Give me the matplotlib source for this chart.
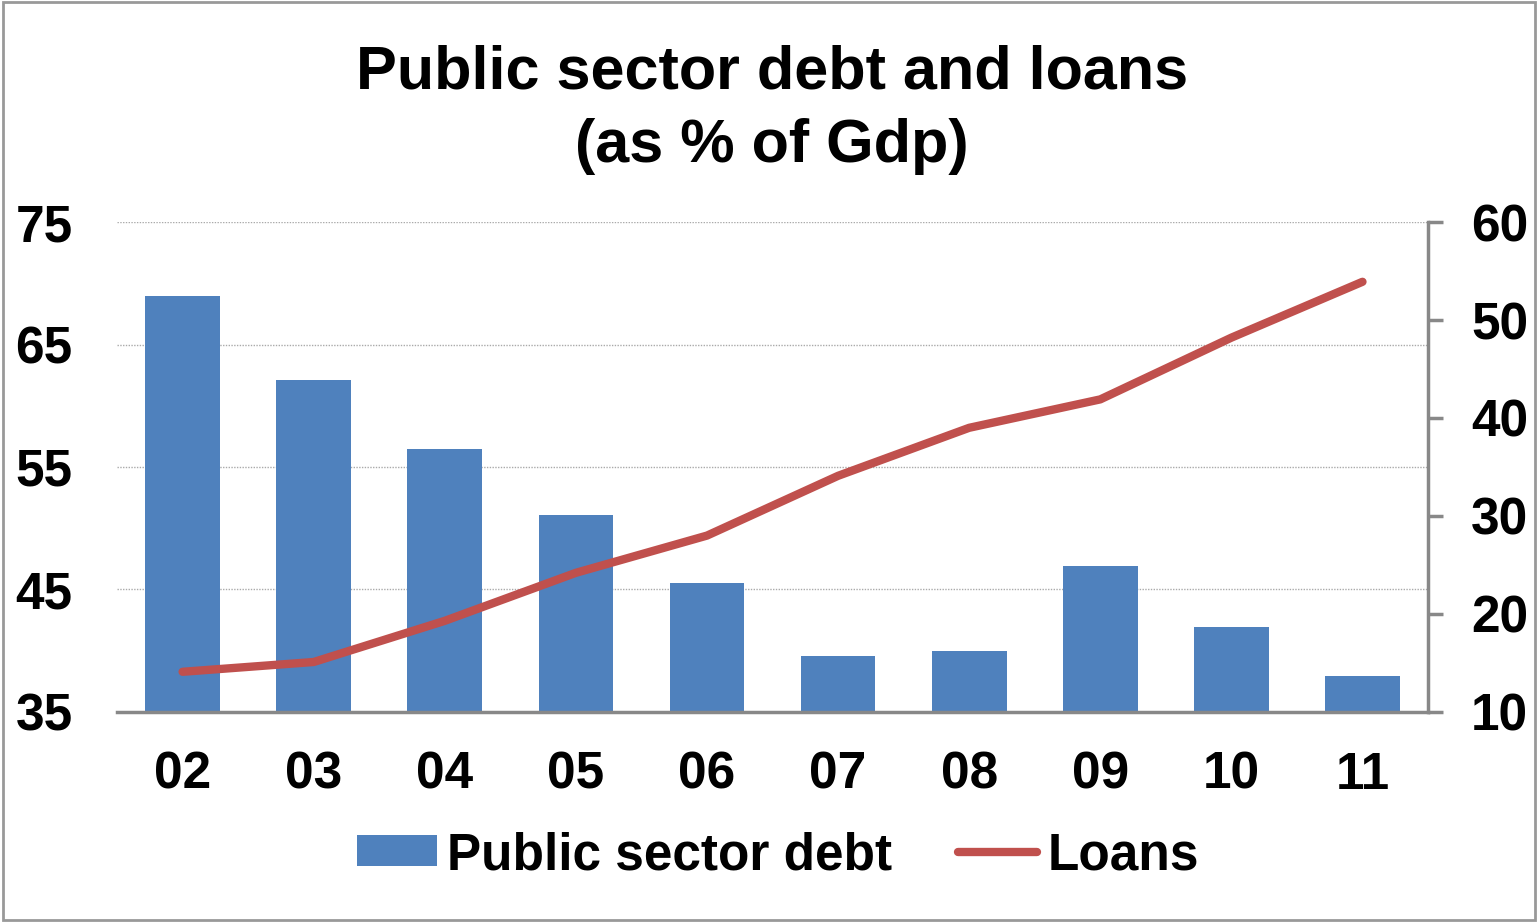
import matplotlib
matplotlib.use("Agg")
import matplotlib.pyplot as plt
from matplotlib.patches import Rectangle, Patch
from matplotlib.lines import Line2D

plt.rcParams['font.family'] = ['Liberation Sans', 'DejaVu Sans']
plt.rcParams['font.weight'] = 'bold'

years = ["02", "03", "04", "05", "06", "07", "08", "09", "10", "11"]
debt = [69.0, 62.1, 56.5, 51.1, 45.5, 39.6, 40.0, 46.9, 41.9, 37.9]
loans = [14.1, 15.1, 19.3, 24.2, 28.0, 34.1, 39.0, 41.9, 48.2, 53.9]
left_ticks = [35, 45, 55, 65, 75]
right_ticks = [10, 20, 30, 40, 50, 60]

bar_color = "#4F81BD"
line_color = "#C0504D"
axis_gray = "#888888"
FS = 37

fig = plt.figure(figsize=(15.38, 9.22), dpi=100)
fig.patches.append(Rectangle((0.002, 0.002), 0.996, 0.996, transform=fig.transFigure,
                             fill=False, edgecolor="#999999", linewidth=2))

ax = fig.add_axes([0.0761, 0.2278, 0.8524, 0.5314])
x = list(range(len(years)))
ax.bar(x, debt, width=0.57, color=bar_color, zorder=2)
ax.set_ylim(35, 75)
ax.set_xlim(-0.5, len(years) - 0.5)
ax.set_yticks(left_ticks)
ax.set_yticklabels([str(t) for t in left_ticks], fontsize=FS, fontweight='bold')
ax.tick_params(axis='y', length=0, pad=32)
ax.set_xticks(x)
ax.set_xticklabels(years, fontsize=FS, fontweight='bold')
ax.tick_params(axis='x', length=0, pad=28)
ax.grid(axis='y', linestyle=(0, (1, 1)), color="#AAAAAA", linewidth=1, zorder=0)
for s in ['left', 'top', 'right']:
    ax.spines[s].set_visible(False)
ax.spines['bottom'].set_color(axis_gray)
ax.spines['bottom'].set_linewidth(2.5)
ax.spines['bottom'].set_zorder(3)

ax2 = ax.twinx()
ax2.plot(x, loans, color=line_color, linewidth=6, solid_capstyle='round', zorder=3)
ax2.set_ylim(10, 60)
ax2.set_yticks(right_ticks)
ax2.set_yticklabels([str(t) for t in right_ticks], fontsize=FS, fontweight='bold')
ax2.tick_params(axis='y', length=11, width=2.5, color=axis_gray, pad=20, direction='out')
for s in ['left', 'top', 'bottom']:
    ax2.spines[s].set_visible(False)
ax2.spines['right'].set_color(axis_gray)
ax2.spines['right'].set_linewidth(2.5)

fig.text(0.502, 0.881, "Public sector debt and loans\n(as % of Gdp)", ha='center', va='center',
         fontsize=44, fontweight='bold', linespacing=1.38)

handles = [Patch(facecolor=bar_color, edgecolor='none'),
           Line2D([0], [0], color=line_color, linewidth=6, solid_capstyle='round')]
fig.legend(handles, ["Public sector debt", "Loans"], loc='center', bbox_to_anchor=(0.506, 0.072),
           ncol=2, frameon=False, prop={'size': FS, 'weight': 'bold'},
           handlelength=1.55, handleheight=0.55, handletextpad=0.2, columnspacing=1.27)

fig.savefig("out.png", dpi=100)
